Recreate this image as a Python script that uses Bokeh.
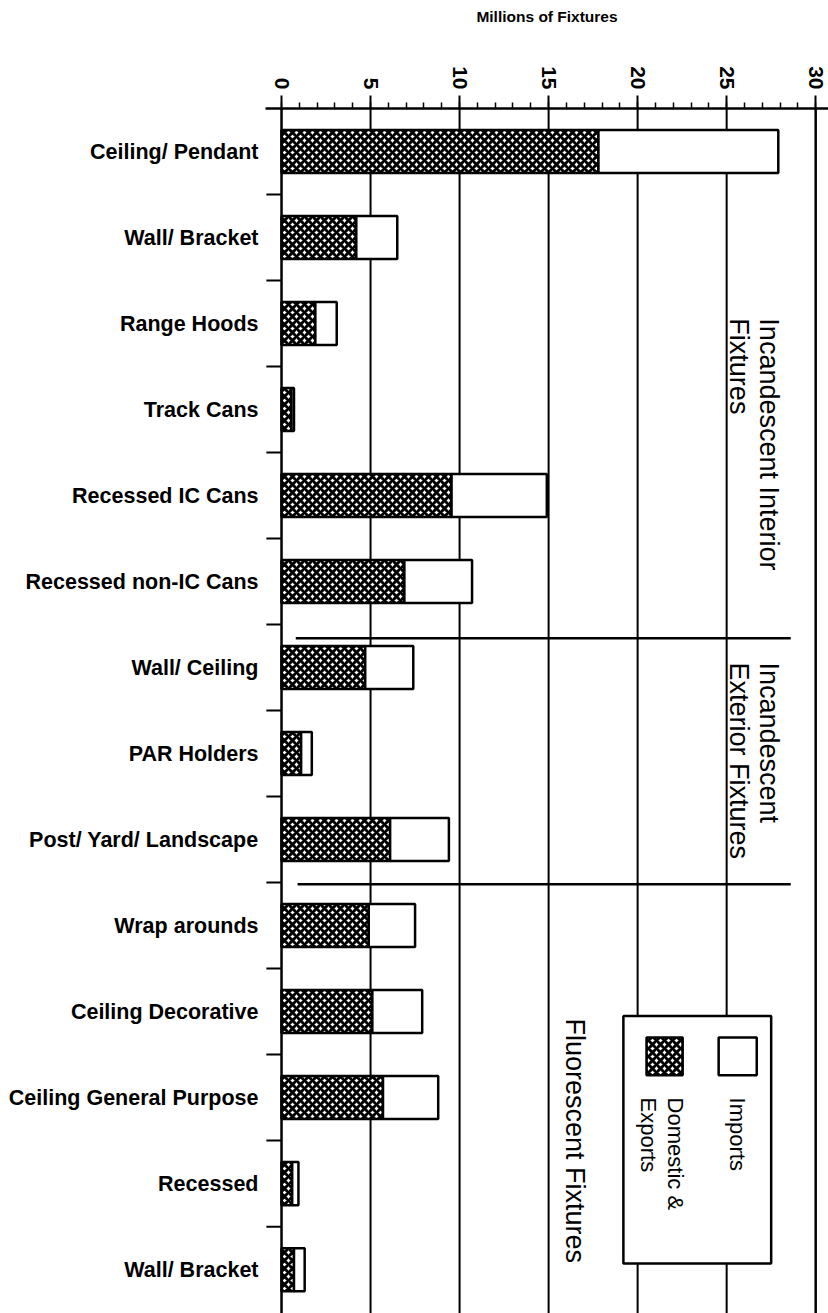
import math
from bokeh.plotting import figure
from bokeh.models import Range1d, FixedTicker, Span
from bokeh.core.properties import value
from bokeh.embed import file_html
from bokeh.resources import INLINE

# ---------------- data ----------------
categories = ["Ceiling/ Pendant", "Wall/ Bracket", "Range Hoods", "Track Cans",
              "Recessed IC Cans", "Recessed non-IC Cans", "Wall/ Ceiling",
              "PAR Holders", "Post/ Yard/ Landscape", "Wrap arounds",
              "Ceiling Decorative", "Ceiling General Purpose", "Recessed",
              "Wall/ Bracket"]
domestic = [17.8, 4.2, 1.9, 0.55, 9.55, 6.9, 4.7, 1.1, 6.1, 4.9, 5.1, 5.7, 0.6, 0.7]
imports = [10.1, 2.3, 1.2, 0.15, 5.35, 3.8, 2.7, 0.6, 3.3, 2.6, 2.8, 3.1, 0.35, 0.6]
x_ticks = [0, 5, 10, 15, 20, 25, 30]
group_lines = [["Incandescent Interior", "Fixtures"],
               ["Incandescent", "Exterior Fixtures"],
               ["Fluorescent Fixtures"]]
legend_names = ["Imports", "Domestic &\nExports"]
axis_title = "Millions of Fixtures"

FONT = "Liberation Sans"
n = len(categories)
rows = list(range(n))
totals = [d + i for d, i in zip(domestic, imports)]

p = figure(width=828, height=1313, x_range=Range1d(-0.9, 30.72),
           y_range=Range1d(13.51, -0.5), x_axis_location="above",
           output_backend="svg", toolbar_location=None, title=None,
           min_border_left=265, min_border_right=0, min_border_top=108,
           min_border_bottom=0)
p.outline_line_color = None
p.xgrid.grid_line_color = None
p.ygrid.grid_line_color = None
p.background_fill_color = "white"

# top axis
xa = p.xaxis[0]
xa.ticker = FixedTicker(ticks=x_ticks, minor_ticks=list(range(0, 31)))
xa.major_label_orientation = -math.pi / 2
xa.major_label_text_font = FONT
xa.major_label_text_font_style = "bold"
xa.major_label_text_font_size = "21px"
xa.major_label_text_color = "black"
xa.major_label_standoff = 6
xa.major_tick_out = 13
xa.major_tick_in = 0
xa.minor_tick_out = 6
xa.minor_tick_in = 0
xa.axis_line_width = 2.5
xa.major_tick_line_width = 2
xa.minor_tick_line_width = 1.5
xa.axis_label = axis_title
xa.axis_label_text_font = FONT
xa.axis_label_text_font_style = "bold"
xa.axis_label_text_font_size = "15.5px"
xa.axis_label_text_color = "black"
xa.axis_label_standoff = 38

# left axis (category labels)
ya = p.yaxis[0]
ya.ticker = FixedTicker(ticks=rows)
ya.major_label_overrides = {i: c for i, c in enumerate(categories)}
ya.axis_line_color = None
ya.major_tick_line_color = None
ya.minor_tick_line_color = None
ya.major_tick_out = 0
ya.major_label_standoff = 7
ya.major_label_text_font = FONT
ya.major_label_text_font_style = "bold"
ya.major_label_text_font_size = "21.5px"
ya.major_label_text_color = "black"

# gridlines behind bars
for g in x_ticks[1:-1]:
    p.add_layout(Span(location=g, dimension="height", line_color="black",
                      line_width=2, level="underlay"))

# bars
p.hbar(y=rows, left=0, right=domestic, height=0.5, fill_color="white",
       hatch_pattern="diagonal_cross", hatch_color="black", hatch_scale=8,
       hatch_weight=3, line_color="black", line_width=2.5)
p.hbar(y=rows, left=domestic, right=totals, height=0.5, fill_color="white",
       line_color="black", line_width=2.5)

# frame lines
p.add_layout(Span(location=0, dimension="height", line_color="black", line_width=2.5))
p.add_layout(Span(location=30, dimension="height", line_color="black", line_width=2.5))

# row boundary ticks on the left
bounds = [r + 0.5 for r in rows[:-1]]
p.segment(x0=[-0.85] * len(bounds), x1=[0] * len(bounds), y0=bounds, y1=bounds,
          line_color="black", line_width=2)

# group separators
p.segment(x0=[0.8, 0.9], x1=[28.6, 28.6], y0=[5.66, 8.52], y1=[5.66, 8.52],
          line_color="black", line_width=2.5)

# group labels (rotated)
gx = [27.36, 25.67, 27.36, 25.67, 16.46]
gy = [1.94, 1.94, 5.94, 5.94, 10.08]
gt = group_lines[0] + group_lines[1] + group_lines[2]
p.text(x=gx, y=gy, text=gt, angle=-math.pi / 2, text_align="left",
       text_baseline="middle", text_font=value(FONT), text_font_size="27px",
       text_color="black")

# legend box
p.quad(left=[19.2], right=[27.5], top=[10.05], bottom=[12.93],
       fill_color="white", line_color="black", line_width=2.5)
p.quad(left=[24.55], right=[26.69], top=[10.30], bottom=[10.74],
       fill_color="white", line_color="black", line_width=2.5)
p.quad(left=[20.5], right=[22.53], top=[10.30], bottom=[10.74],
       fill_color="white", hatch_pattern="diagonal_cross", hatch_color="black",
       hatch_scale=8, hatch_weight=3, line_color="black", line_width=2.5)
leg_txt = [legend_names[0]] + legend_names[1].split("\n")
p.text(x=[25.62, 22.13, 20.62], y=[11.0, 11.0, 11.0], text=leg_txt,
       angle=-math.pi / 2, text_align="left", text_baseline="middle",
       text_font=value(FONT), text_font_size="22px", text_color="black")

open("out.html", "w").write(file_html(p, INLINE))
